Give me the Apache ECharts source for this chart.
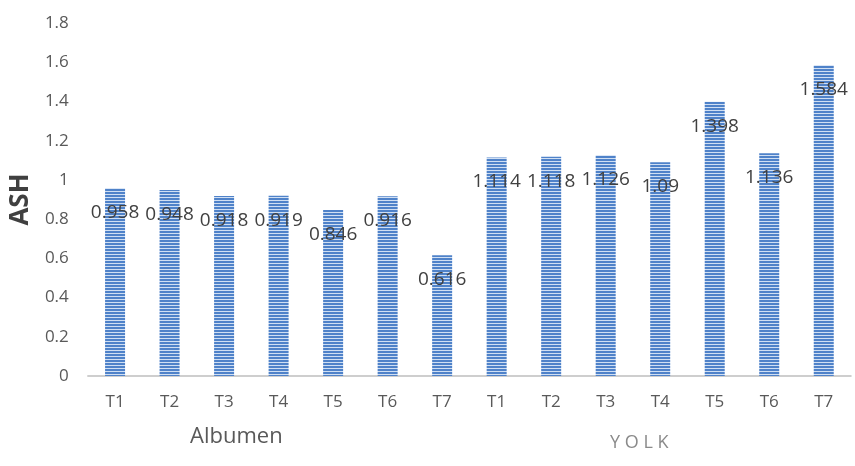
<!DOCTYPE html>
<html><head><meta charset="utf-8">
<script src="https://cdn.jsdelivr.net/npm/echarts@6/dist/echarts.min.js"></script>
<style>html,body{margin:0;padding:0;background:#fff}#c{width:855px;height:466px}</style>
</head><body><div id="c"></div>
<script>
const categories = ['T1','T2','T3','T4','T5','T6','T7','T1','T2','T3','T4','T5','T6','T7'];
const albumen = [0.958, 0.948, 0.918, 0.919, 0.846, 0.916, 0.616];
const yolk = [1.114, 1.118, 1.126, 1.09, 1.398, 1.136, 1.584];
const values = albumen.concat(yolk);
const yTicks = {min: 0, max: 1.8, interval: 0.2};

const cv = document.createElement('canvas');
cv.width = 20; cv.height = 3;
const g = cv.getContext('2d');
g.fillStyle = '#4f82c9'; g.fillRect(0,0,20,2);
g.fillStyle = '#d0dff3'; g.fillRect(0,2,20,1);

const chart = echarts.init(document.getElementById('c'));
chart.setOption({
  animation: false,
  textStyle: {fontFamily: 'Open Sans'},
  grid: {left: 87, right: 4, top: 23, bottom: 90},
  xAxis: {
    type: 'category', data: categories,
    axisLine: {lineStyle: {color: '#bfbfbf', width: 1.5}},
    axisTick: {show: false},
    axisLabel: {color: '#595959', fontSize: 17, fontFamily: 'Open Sans', margin: 18, interval: 0}
  },
  yAxis: {
    type: 'value', min: yTicks.min, max: yTicks.max, interval: yTicks.interval,
    splitLine: {show: false}, axisLine: {show: false}, axisTick: {show: false},
    axisLabel: {color: '#595959', fontSize: 17, fontFamily: 'Open Sans', margin: 19},
    name: 'ASH', nameLocation: 'middle', nameGap: 53,
    nameTextStyle: {fontSize: 26, fontWeight: 'bold', color: '#404040', fontFamily: 'Open Sans'}
  },
  series: [{
    type: 'bar', data: values, barWidth: 20,
    itemStyle: {color: {image: cv, repeat: 'repeat'}},
    label: {show: true, position: 'insideTop', distance: 15, color: '#404040', fontSize: 19, fontFamily: 'Open Sans'}
  }],
  graphic: [
    {type: 'text', left: 190, top: 426, style: {text: 'Albumen', fontSize: 22, fill: '#595959', fontFamily: 'Open Sans'}},
    {type: 'text', left: 610, top: 434, style: {text: 'Y O L K', fontSize: 18, fill: '#8a8a8a', fontFamily: 'Open Sans'}}
  ]
});
</script></body></html>
